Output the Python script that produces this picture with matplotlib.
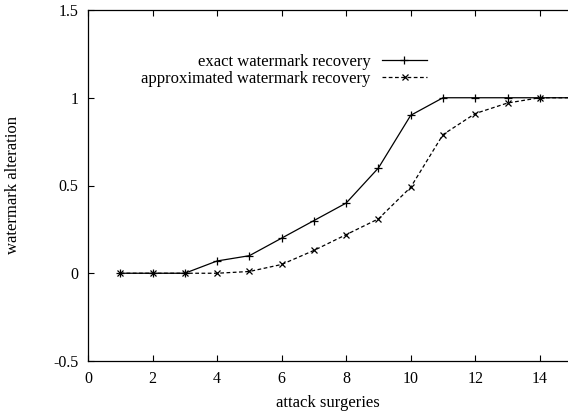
import matplotlib
matplotlib.use("Agg")
import matplotlib.pyplot as plt

x = [1, 2, 3, 4, 5, 6, 7, 8, 9, 10, 11, 12, 13, 14, 15]
exact = [0, 0, 0, 0.07, 0.1, 0.2, 0.3, 0.4, 0.6, 0.9, 1, 1, 1, 1, 1]
approx = [0, 0, 0, 0, 0.01, 0.05, 0.13, 0.22, 0.31, 0.49, 0.79, 0.91, 0.97, 1, 1]
labels = ["exact watermark recovery", "approximated watermark recovery"]
xticks = [0, 2, 4, 6, 8, 10, 12, 14]
yticks = [-0.5, 0, 0.5, 1, 1.5]
yticklabels = ["-0.5", "0", "0.5", "1", "1.5"]

plt.rcParams['font.family'] = ['Liberation Serif', 'DejaVu Serif']
plt.rcParams['font.size'] = 12

fig = plt.figure(figsize=(5.68, 4.17), dpi=100)
axw = 1 - 88/568 + 0.01
ax = fig.add_axes([88/568, 1-361/417, axw, 351/417])
axw_px = axw * 568

ax.plot(x, exact, color='black', lw=0.9, marker='+', ms=6, mew=0.9, label=labels[0])
ax.plot(x, approx, color='black', lw=0.9, ls=(0, (3, 2)), marker='x', ms=4.5, mew=0.9, label=labels[1])

ax.set_xlim(0, 15.05)
ax.set_ylim(-0.5, 1.5)
ax.set_xticks(xticks)
ax.set_xticklabels([str(t) for t in xticks])
ax.set_yticks(yticks)
ax.set_yticklabels(yticklabels)
ax.tick_params(direction='in', length=4, width=0.8, top=True, right=False, pad=7, labelsize=11.5)
ax.spines['right'].set_visible(False)
for s in ['left', 'top', 'bottom']:
    ax.spines[s].set_linewidth(0.9)

ax.set_xlabel('attack surgeries')
ax.set_ylabel('watermark alteration')
ax.yaxis.set_label_coords((21 - 88) / axw_px, 0.5)
ax.xaxis.set_label_coords(0.5 * 480 / axw_px, (361 - 395) / 351)

leg = ax.legend(loc='upper right', bbox_to_anchor=((427 - 88) / axw_px, 0.875),
                frameon=False, markerfirst=False, handlelength=2.7, handletextpad=0.7,
                labelspacing=0.05, borderaxespad=0, borderpad=0)

fig.savefig('out.png', dpi=100)
